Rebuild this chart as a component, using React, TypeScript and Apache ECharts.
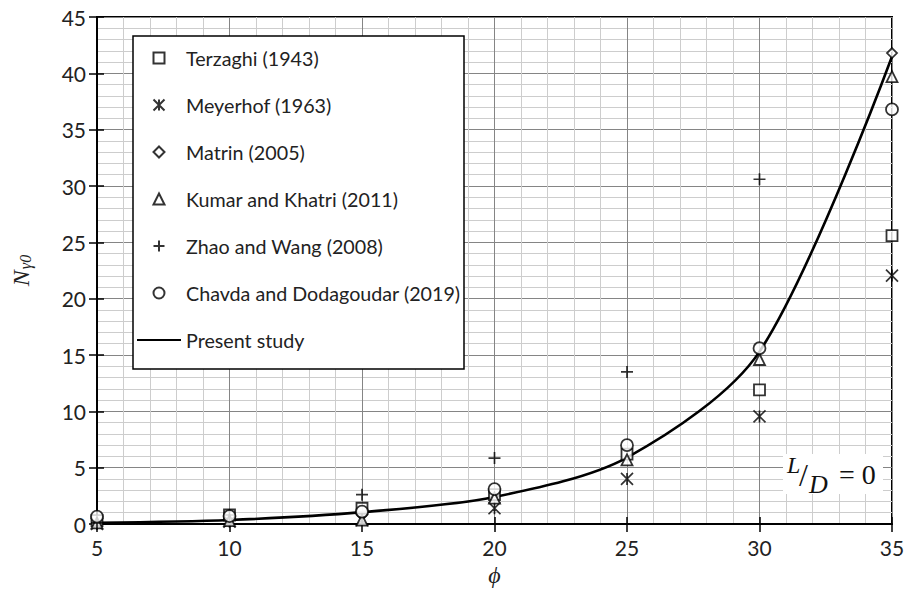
import React, { useEffect, useRef } from "react";
import * as echarts from "echarts";

// ---- Data ----
const PHI = [5, 10, 15, 20, 25, 30, 35];
const terzaghi = [0.3, 0.8, 1.4, 2.6, 6.2, 11.9, 25.6];
const meyerhof = [0.0, 0.2, 0.35, 1.4, 4.0, 9.55, 22.05];
const matrinPhi = [35];
const matrin = [41.8];
const kumar = [0.1, 0.3, 0.35, 2.3, 5.7, 14.6, 39.7];
const zhaoPhi = [5, 10, 15, 20, 25, 30];
const zhao = [0.1, 0.8, 2.6, 5.85, 13.5, 30.6];
const chavda = [0.65, 0.7, 1.1, 3.1, 7.0, 15.6, 36.8];
const present = [0.1, 0.35, 1.05, 2.4, 5.9, 15.3, 41.5];

const xTicks = { min: 5, max: 35, interval: 5 };
const yTicks = { min: 0, max: 45, interval: 5 };

const NAMES = [
  "Terzaghi (1943)",
  "Meyerhof (1963)",
  "Matrin (2005)",
  "Kumar and Khatri (2011)",
  "Zhao and Wang (2008)",
  "Chavda and Dodagoudar (2019)",
  "Present study",
];

const pair = (xs: number[], ys: number[]) => xs.map((x, i) => [x, ys[i]]);

const SQUARE = "path://M0,0L10,0L10,10L0,10Z";
const DIAMOND = "path://M5,0L10,5L5,10L0,5Z";
const TRIANGLE = "path://M5,0L10,10L0,10Z";
const CIRCLE = "path://M0,5A5,5,0,1,1,10,5A5,5,0,1,1,0,5Z";
const STAR = "path://M0,0L10,10M10,0L0,10M5,0L5,10";
const PLUS = "path://M5,0L5,10M0,5L10,5";

export default function App() {
  const ref = useRef<HTMLDivElement>(null);
  useEffect(() => {
    if (!ref.current) return;
    const chart = echarts.init(ref.current, undefined, { renderer: "svg" });
    const markerStyle = { color: "#fff", borderColor: "#000", borderWidth: 1.8 };
    const lineMarkerStyle = { color: "#000", borderColor: "#000", borderWidth: 1.7 };
    const scatter = (name: string, data: number[][], symbol: string, size: number, style: any) => ({
      type: "scatter",
      name,
      data,
      symbol,
      symbolSize: size,
      itemStyle: style,
      z: 3,
    });
    const labelFont = { fontFamily: "Lato", color: "#222" };
    const innerTickAxis = {
      type: "value",
      axisLine: { show: false },
      axisTick: { show: true, inside: true, length: 7, lineStyle: { color: "#000", width: 1.5 } },
      axisLabel: { show: false },
      splitLine: { show: false },
    };
    chart.setOption({
      animation: false,
      backgroundColor: "#fff",
      grid: {
        left: 97,
        right: 24,
        top: 17,
        bottom: 65,
        containLabel: false,
        outerBoundsMode: "none",
        show: true,
        borderColor: "#000",
        borderWidth: 2,
      },
      xAxis: [
        {
          type: "value",
          ...xTicks,
          name: "ϕ",
          nameLocation: "middle",
          nameGap: 39,
          nameTextStyle: { fontFamily: "Liberation Serif", fontStyle: "italic", fontSize: 24, color: "#222" },
          axisLine: { lineStyle: { color: "#000", width: 2 } },
          axisTick: { show: true, length: 8, lineStyle: { color: "#000", width: 1.5 } },
          axisLabel: { ...labelFont, fontSize: 21, margin: 13 },
          splitLine: { show: true, lineStyle: { color: "#858585", width: 1 } },
          minorTick: { show: false, splitNumber: 5 },
          minorSplitLine: { show: true, lineStyle: { color: "#cdcdcd", width: 1 } },
        },
        { ...innerTickAxis, ...xTicks, position: "bottom", offset: 0 },
      ],
      yAxis: [
        {
          type: "value",
          ...yTicks,
          name: "{n|N}{s|γ0}",
          nameLocation: "middle",
          nameRotate: 90,
          nameGap: 64,
          nameTextStyle: {
            rich: {
              n: { fontFamily: "Liberation Serif", fontStyle: "italic", fontSize: 24, color: "#222" },
              s: { fontFamily: "Liberation Serif", fontStyle: "italic", fontSize: 16, color: "#222", verticalAlign: "bottom", padding: [8, 0, 0, 1] },
            },
          },
          axisLine: { show: true, lineStyle: { color: "#000", width: 2 } },
          axisTick: { show: true, length: 8, lineStyle: { color: "#000", width: 1.5 } },
          axisLabel: { ...labelFont, fontSize: 21, margin: 11 },
          splitLine: { show: true, lineStyle: { color: "#858585", width: 1 } },
          minorTick: { show: false, splitNumber: 5 },
          minorSplitLine: { show: true, lineStyle: { color: "#cdcdcd", width: 1 } },
        },
        { ...innerTickAxis, ...yTicks, position: "left", offset: 0 },
      ],
      legend: {
        orient: "vertical",
        left: 133,
        top: 36,
        z: 6,
        padding: [12, 5, 20, 3],
        itemGap: 27,
        itemWidth: 44,
        itemHeight: 11,
        data: [
          ...NAMES.slice(0, 6),
          { name: NAMES[6], itemStyle: { color: "rgba(0,0,0,0)", borderColor: "rgba(0,0,0,0)", borderWidth: 0 } },
        ],
        textStyle: { fontFamily: "Lato", fontSize: 19.7, color: "#222", lineHeight: 19 },
      },
      graphic: [
        {
          type: "rect",
          z: 5,
          shape: { x: 133, y: 36, width: 331, height: 333 },
          style: { fill: "#fff", stroke: "#000", lineWidth: 1.5 },
        },
        {
          type: "rect",
          z: 5,
          shape: { x: 783, y: 454, width: 100, height: 40 },
          style: { fill: "#fff" },
        },
        {
          type: "text",
          z: 6,
          x: 787,
          y: 453,
          style: { text: "L", font: "italic 24px 'Liberation Serif'", fill: "#111" },
        },
        {
          type: "text",
          z: 6,
          x: 799,
          y: 459,
          style: { text: "/", font: "32px 'Liberation Serif'", fill: "#111" },
        },
        {
          type: "text",
          z: 6,
          x: 809,
          y: 471,
          style: { text: "D", font: "italic 26px 'Liberation Serif'", fill: "#111" },
        },
        {
          type: "text",
          z: 6,
          x: 839,
          y: 460,
          style: { text: "= 0", font: "28px 'Liberation Serif'", fill: "#111" },
        },
      ],
      series: [
        {
          type: "line",
          name: NAMES[6],
          data: pair(PHI, present),
          smooth: 0.3,
          symbol: "none",
          lineStyle: { color: "#000", width: 2.6 },
          itemStyle: { color: "#000" },
          z: 2,
        },
        scatter(NAMES[0], pair(PHI, terzaghi), SQUARE, 11, markerStyle),
        scatter(NAMES[1], pair(PHI, meyerhof), STAR, 12, lineMarkerStyle),
        scatter(NAMES[2], pair(matrinPhi, matrin), DIAMOND, 10, markerStyle),
        scatter(NAMES[3], pair(PHI, kumar), TRIANGLE, 11, markerStyle),
        scatter(NAMES[4], pair(zhaoPhi, zhao), PLUS, 12, lineMarkerStyle),
        scatter(NAMES[5], pair(PHI, chavda), CIRCLE, 12, markerStyle),
      ],
    });
    return () => chart.dispose();
  }, []);
  return <div ref={ref} style={{ position: "fixed", left: 0, top: 0, width: 916, height: 589 }} />;
}
